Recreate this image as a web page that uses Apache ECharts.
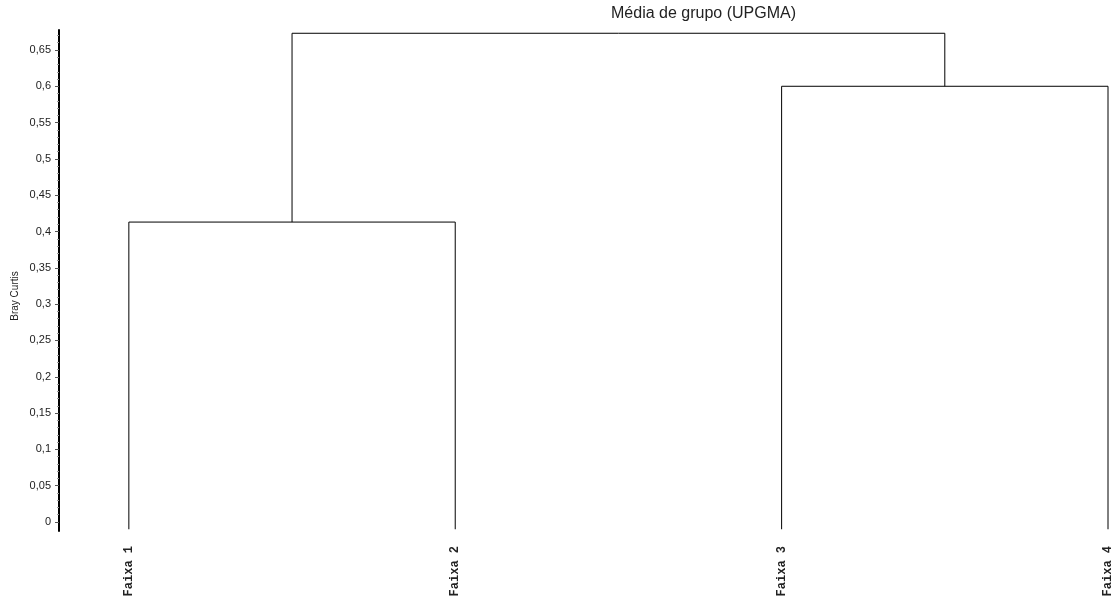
<!DOCTYPE html>
<html>
<head>
<meta charset="utf-8">
<script src="https://cdn.jsdelivr.net/npm/echarts@6/dist/echarts.min.js"></script>
<style>
  html, body { margin: 0; padding: 0; background: #fff; }
  #dendro { width: 1114px; height: 600px; }
</style>
</head>
<body>
<div id="dendro"></div>
<script>
// leaves of the tree
const leafNames = ['Faixa 1', 'Faixa 2', 'Faixa 3', 'Faixa 4']
const leafPos = [1, 2, 3, 4]
const leafBase = -0.01

// merges: left x, right x, height, base of left branch, base of right branch
const mergeLeft = [1, 3, 1.5]
const mergeRight = [2, 4, 3.5]
const mergeHeight = [0.413, 0.6, 0.673]
const mergeLeftBase = [leafBase, leafBase, 0.413]
const mergeRightBase = [leafBase, leafBase, 0.6]

// y tick labels
const yTicks = [0, 0.05, 0.1, 0.15, 0.2, 0.25, 0.3, 0.35, 0.4, 0.45, 0.5, 0.55, 0.6, 0.65]
const yMinorTicks = []
for (let i = 0; i <= 67; i++) {
  if (i % 5 !== 0) yMinorTicks.push(i / 100)
}

const series = []
for (let i = 0; i < mergeLeft.length; i++) {
  series.push({
    type: 'line',
    symbol: 'none',
    silent: true,
    lineStyle: { color: '#000', width: 1 },
    data: [
      [mergeLeft[i], mergeLeftBase[i]],
      [mergeLeft[i], mergeHeight[i]],
      [mergeRight[i], mergeHeight[i]],
      [mergeRight[i], mergeRightBase[i]]
    ]
  })
}

const yMin = -0.0124
const yMax = 0.6775

const chart = echarts.init(document.getElementById('dendro'))
chart.setOption({
  animation: false,
  title: {
    text: 'Média de grupo (UPGMA)',
    left: 606,
    top: 1,
    textStyle: { fontFamily: 'Liberation Sans', fontSize: 16, fontWeight: 'normal', color: '#222' }
  },
  grid: { left: 59, right: 0, top: 30, bottom: 69 },
  xAxis: {
    type: 'value',
    min: 0.786,
    max: 4.015,
    splitLine: { show: false },
    axisLine: { show: false },
    axisTick: { show: false },
    axisLabel: {
      customValues: leafPos,
      rotate: 90,
      margin: 15,
      fontFamily: 'Liberation Mono',
      fontWeight: 'bold',
      fontSize: 12,
      color: '#222',
      formatter: v => leafNames[leafPos.indexOf(v)]
    }
  },
  yAxis: [
    {
      type: 'value',
      min: yMin,
      max: yMax,
      splitLine: { show: false },
      axisLine: { show: true, lineStyle: { color: '#000', width: 2 } },
      axisTick: { show: true, customValues: yTicks, length: 4, lineStyle: { color: '#555' } },
      axisLabel: {
        customValues: yTicks,
        margin: 8,
        fontFamily: 'Liberation Sans',
        fontSize: 11,
        color: '#222',
        formatter: v => String(+v.toFixed(2)).replace('.', ',')
      }
    },
    {
      type: 'value',
      min: yMin,
      max: yMax,
      position: 'left',
      splitLine: { show: false },
      axisLine: { show: false },
      axisTick: { show: true, customValues: yMinorTicks, length: 2, lineStyle: { color: '#999' } },
      axisLabel: { show: false }
    }
  ],
  graphic: [{
    type: 'text',
    x: 15,
    y: 296,
    rotation: Math.PI / 2,
    style: {
      text: 'Bray Curtis',
      fontFamily: 'Liberation Sans',
      fontSize: 10,
      fill: '#222',
      align: 'center',
      verticalAlign: 'middle'
    }
  }],
  series: series
})
</script>
</body>
</html>
